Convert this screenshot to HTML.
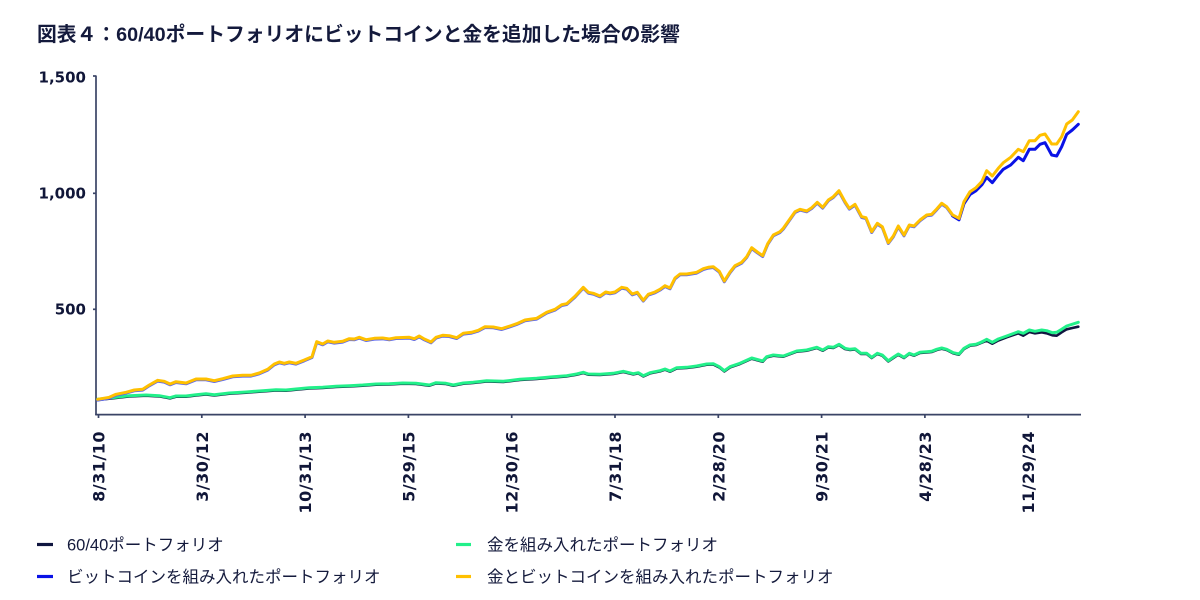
<!DOCTYPE html>
<html>
<head>
<meta charset="utf-8">
<style>
  html, body { margin:0; padding:0; background:#ffffff; }
  svg { display:block; }
  .ttl { font-family:"Liberation Sans","Noto Sans CJK JP",sans-serif; font-weight:bold; font-size:19.8px; fill:#141a3c; }
  .lg { font-family:"Liberation Sans","Noto Sans CJK JP",sans-serif; font-size:16.5px; fill:#141a3c; }
  .yl { font-family:"DejaVu Sans","Liberation Sans",sans-serif; font-weight:bold; font-size:15px; fill:#101638; }
  .xl { font-family:"DejaVu Sans","Liberation Sans",sans-serif; font-weight:bold; font-size:16px; fill:#101638; letter-spacing:0.5px; }
</style>
</head>
<body>
<svg width="1200" height="600" viewBox="0 0 1200 600" xmlns="http://www.w3.org/2000/svg">
  <rect width="1200" height="600" fill="#ffffff"/>
  <text class="ttl" x="37" y="41">図表４：60/40ポートフォリオにビットコインと金を追加した場合の影響</text>

  <!-- axes -->
  <g stroke="#3a4466" stroke-width="1.7" fill="none">
    <line x1="96" y1="75.5" x2="96" y2="415"/>
    <line x1="95.2" y1="414.6" x2="1081" y2="414.6"/>
    <line x1="93" y1="76" x2="96" y2="76"/>
    <line x1="93" y1="193.3" x2="96" y2="193.3"/>
    <line x1="93" y1="309.3" x2="96" y2="309.3"/>
    <line x1="98.5" y1="414.6" x2="98.5" y2="418"/>
    <line x1="201.8" y1="414.6" x2="201.8" y2="418"/>
    <line x1="305.1" y1="414.6" x2="305.1" y2="418"/>
    <line x1="408.4" y1="414.6" x2="408.4" y2="418"/>
    <line x1="511.7" y1="414.6" x2="511.7" y2="418"/>
    <line x1="615" y1="414.6" x2="615" y2="418"/>
    <line x1="718.3" y1="414.6" x2="718.3" y2="418"/>
    <line x1="821.6" y1="414.6" x2="821.6" y2="418"/>
    <line x1="924.9" y1="414.6" x2="924.9" y2="418"/>
    <line x1="1028.2" y1="414.6" x2="1028.2" y2="418"/>
  </g>

  <!-- y labels -->
  <text class="yl" x="86" y="82.5" text-anchor="end">1,500</text>
  <text class="yl" x="86" y="198.5" text-anchor="end">1,000</text>
  <text class="yl" x="86" y="314.5" text-anchor="end">500</text>

  <!-- x labels -->
  <text class="xl" text-anchor="end" transform="translate(104.5,431) rotate(-90)">8/31/10</text>
  <text class="xl" text-anchor="end" transform="translate(207.8,431) rotate(-90)">3/30/12</text>
  <text class="xl" text-anchor="end" transform="translate(311.1,431) rotate(-90)">10/31/13</text>
  <text class="xl" text-anchor="end" transform="translate(414.4,431) rotate(-90)">5/29/15</text>
  <text class="xl" text-anchor="end" transform="translate(517.7,431) rotate(-90)">12/30/16</text>
  <text class="xl" text-anchor="end" transform="translate(621,431) rotate(-90)">7/31/18</text>
  <text class="xl" text-anchor="end" transform="translate(724.3,431) rotate(-90)">2/28/20</text>
  <text class="xl" text-anchor="end" transform="translate(827.6,431) rotate(-90)">9/30/21</text>
  <text class="xl" text-anchor="end" transform="translate(930.9,431) rotate(-90)">4/28/23</text>
  <text class="xl" text-anchor="end" transform="translate(1034.2,431) rotate(-90)">11/29/24</text>

  <defs>
    <polyline id="greenA" points="97.7,399.3 116,397.3 129.3,395.7 146,395 159.3,395.7 170,397.7 176,396 186,396 196,394.7 206,393.7 214.3,394.7 229.3,393 246,392 262.7,390.7 276,389.7 286,390 296,389 309.3,387.7 322.7,387.3 336,386.3 349.3,385.7 362.7,385 376,384 389.3,383.7 402.7,383 416,383.3 429.3,385 436,382.7 446,383.3 453.3,385 463.3,383 473.3,382.3 486.7,380.7 503.3,381.3 520,379.3 536.7,378.3 553.3,376.7 566.7,375.7 576.7,374 583.3,372.3 588.3,374 600,374.3 606.7,373.7 613.3,373.3 623.3,371.3 633.3,373.7 638.3,372.7 643.3,375.7 650,372.7 660,370.7 665,369 670,371 676.7,367.7 686.7,367.3 696.7,366 706.7,364 713.3,363.7 719.3,366.7 724.3,370.7 730,366.7 740,363.3 751.7,358 762.7,361 766.7,356.7 773.3,355 783.3,356 796.7,351 806.7,350 816.7,347.3 822.7,350 828.3,346.7 833.3,347.3 839,344.3 845,348.3 850,349.3 855,348.7 861,353.3 866.7,353.3 871.7,357.3 877.3,353.3 882.3,355 888.3,360.7 893.3,357.3 898.3,354 904,357.3 909.3,353.3 914,355 920,352.3 926.7,351.7 931.7,351.3 936.7,349.3 941.7,348 946.7,349.3 953.3,352.7 959,354 964,348.3 970,345 976,344.3 981.7,342"/>
    <polyline id="goldA" points="97.7,399.3 109.3,397.3 116,394.3 126,392.3 134.3,390 142.7,389.3 149.3,385 157.7,380.3 164.3,381.3 170,384 176,381.7 186,383 196,379 206,379 214.3,380.7 222.7,378.7 232.7,376 242.7,375.3 251,375.3 259.3,373 267.7,369.3 274.3,364 279.3,362 284.3,363.3 289.3,362 296,363.3 304.3,360 312,356.7 316.7,341.7 322.7,344 327.7,341 334.3,342.3 342.7,341.3 349.3,338.7 354.3,339 359.3,337.3 366,339.7 374.3,338.3 382.7,338 389.3,339 396,337.7 409.3,337.3 414.3,338.7 419.3,336 424.3,339 431,342 436,337.3 442.7,335.3 449.3,335.7 456.7,337.7 463.3,333.3 471.7,332.3 478.3,330.3 485,326.7 493.3,327 501.7,328.7 510,326 516.7,323.7 525,320 531.7,319 536.7,318.3 546.7,312.3 555,309.3 561.7,304.7 566.7,303.7 575,296.3 583.3,287.3 588.3,292.3 593.3,293.3 600,296 605.7,292 610,293 615,292 621.7,287.3 626.7,288.3 632.3,294 637.3,292.3 643.3,300.3 648.3,294.3 655,292 660,289.3 665,285.7 670,288 675,278 680,274 686.7,274 696.7,272.3 703.3,268.7 708.3,267.3 713.3,266.7 719.3,271.3 724.3,281 730,272 735,265.7 741.7,262.3 746.7,256.7 751.7,247.7 757.3,252 762.7,255.7 767.7,243.7 773.3,235 780,231.7 783.3,228.3 795,211.7 800,209.3 806.7,211 811.7,207.7 817.3,202.3 822.7,207.3 828.3,200 833.3,196.7 839,190.7 845,201.7 849.3,208.3 855,204.3 861.7,216.7 866,217.7 871.7,231.7 877.3,223.3 882.3,226.7 888.3,242.7 893.3,236 898.3,226 904,235 909.3,225 914,226 920,220 926.7,215 931.7,214.3 936.7,209 941.7,203.3 946.7,206.7 952.7,215 959,218.3"/>
  </defs>

  <g fill="none" stroke-linejoin="round" stroke-linecap="round">
    <!-- 60/40 (navy) -->
    <use href="#greenA" transform="translate(0,0.7)" stroke="#101640" stroke-width="2.6"/>
    <polyline stroke="#101640" stroke-width="2.6" points="981.7,342.7 986.7,340.7 992.3,343.7 998.3,340.5 1006.7,337.3 1018.3,333.3 1023.3,335.7 1029.3,332 1035,333.3 1041.7,332.3 1046.7,333.3 1052.3,335.3 1056.7,335.7 1061.7,332.3 1066.7,329.3 1072.3,328 1078.3,326.7"/>
    <!-- gold portfolio (green) -->
    <use href="#greenA" stroke="#22f08a" stroke-width="3"/>
    <polyline stroke="#22f08a" stroke-width="3" points="981.7,342 986.7,339.3 992.3,342.3 998.3,339 1006.7,336 1018.3,331.7 1023.3,333.3 1029.3,330 1035,331.3 1041.7,330 1046.7,330.7 1052.3,332.7 1056.7,332.3 1061.7,329.3 1066.7,326 1078.3,322.3"/>
    <!-- bitcoin (blue) -->
    <use href="#goldA" transform="translate(0,0.8)" stroke="#5a66f0" stroke-width="3"/>
    <polyline stroke="#0a12e6" stroke-width="3" points="952.7,216 959,219.8 964,203.7 970,194.5 976,190.7 981.7,185 986.7,177.3 992.3,182.7 998.3,175 1003.3,169.3 1010.7,165 1018.3,157.3 1023.3,160.7 1029.3,149.3 1035,149.3 1040,144.3 1045,142.7 1051.7,155 1056.7,156 1061.7,146.7 1066.7,134.3 1072.3,130 1078.3,124.3"/>
    <!-- gold + bitcoin (yellow) -->
    <use href="#goldA" stroke="#ffc000" stroke-width="3"/>
    <polyline stroke="#ffc000" stroke-width="3" points="959,218.3 964,201.7 970,191.7 976,187.7 981.7,181.7 986.7,170.7 992.3,176 998.3,168.3 1003.3,162.7 1010.7,157.3 1018.3,149.3 1023.3,151.7 1029.3,140.7 1035,140.7 1040,135.3 1045,134 1051.7,144 1056.7,144 1061.7,136.7 1066.7,124 1072.3,120 1078.3,111.7"/>
  </g>

  <!-- legend -->
  <g stroke-width="3.2">
    <line x1="37" y1="544.5" x2="53" y2="544.5" stroke="#101640"/>
    <line x1="456" y1="544.5" x2="471" y2="544.5" stroke="#22f08a"/>
    <line x1="37" y1="576.5" x2="53" y2="576.5" stroke="#0a12e6"/>
    <line x1="456" y1="576.5" x2="471" y2="576.5" stroke="#ffc000"/>
  </g>
  <text class="lg" x="67" y="550.5">60/40ポートフォリオ</text>
  <text class="lg" x="487" y="550.5">金を組み入れたポートフォリオ</text>
  <text class="lg" x="67" y="582.5">ビットコインを組み入れたポートフォリオ</text>
  <text class="lg" x="487" y="582.5">金とビットコインを組み入れたポートフォリオ</text>
</svg>
</body>
</html>
